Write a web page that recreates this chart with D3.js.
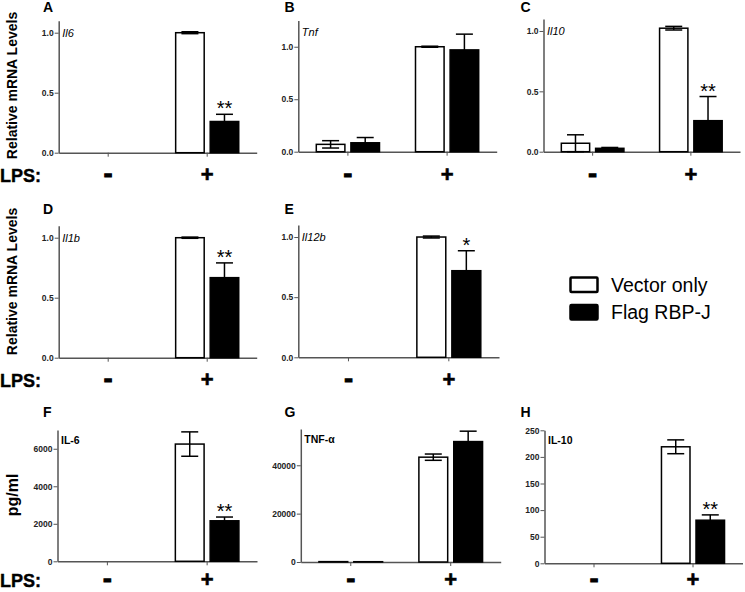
<!DOCTYPE html>
<html>
<head>
<meta charset="utf-8">
<script src="https://cdn.jsdelivr.net/npm/d3@7"></script>
<style>
  body { margin: 0; background: #fff; }
  svg { display: block; font-family: "Liberation Sans", Arial, sans-serif; }
</style>
</head>
<body>
<div id="chart"></div>
<script>
// groups on the x axis and the two series
var groups = ["-", "+"];
var seriesNames = ["Vector only", "Flag RBP-J"];

// tick values
var mrnaTicks = [0, 0.5, 1.0];
var il6PgTicks = [0, 2000, 4000, 6000];
var tnfPgTicks = [0, 20000, 40000];
var il10PgTicks = [0, 50, 100, 150, 200, 250];

// A - Il6 mRNA
var il6Vector = [null, 1.0],   il6VectorErr = [null, 0.008];
var il6Flag   = [null, 0.26],  il6FlagErr   = [null, 0.06];
var il6Stars  = ["", "**"];
// B - Tnf mRNA
var tnfVector = [0.07, 1.0],   tnfVectorErr = [0.035, 0.005];
var tnfFlag   = [0.085, 0.97], tnfFlagErr   = [0.05, 0.15];
var tnfStars  = ["", ""];
// C - Il10 mRNA
var il10Vector = [0.07, 1.023], il10VectorErr = [0.07, 0.015];
var il10Flag   = [0.028, 0.257], il10FlagErr  = [0.007, 0.2];
var il10Stars  = ["", "**"];
// D - Il1b mRNA
var il1bVector = [null, 1.0],  il1bVectorErr = [null, 0.005];
var il1bFlag   = [null, 0.667], il1bFlagErr  = [null, 0.123];
var il1bStars  = ["", "**"];
// E - Il12b mRNA
var il12bVector = [null, 1.0],  il12bVectorErr = [null, 0.008];
var il12bFlag   = [null, 0.72], il12bFlagErr   = [null, 0.166];
var il12bStars  = ["", "*"];
// F - IL-6 protein (pg/ml)
var il6PgVector = [null, 6250], il6PgVectorErr = [null, 650];
var il6PgFlag   = [null, 2160], il6PgFlagErr   = [null, 200];
var il6PgStars  = ["", "**"];
// G - TNF-a protein (pg/ml)
var tnfPgVector = [150, 43350], tnfPgVectorErr = [0, 1300];
var tnfPgFlag   = [120, 49800], tnfPgFlagErr   = [0, 4300];
var tnfPgStars  = ["", ""];
// H - IL-10 protein (pg/ml)
var il10PgVector = [null, 219], il10PgVectorErr = [null, 13];
var il10PgFlag   = [null, 81],  il10PgFlagErr   = [null, 10];
var il10PgStars  = ["", "**"];

var svg = d3.select('#chart').append('svg').attr('width', 745).attr('height', 592);

var f1 = d3.format('.1f'), f0 = d3.format('d');

var panels = [
  {id:'A', gene:'Il6',   italic:true,  vec:il6Vector, vecErr:il6VectorErr, flag:il6Flag, flagErr:il6FlagErr, stars:il6Stars, ticks:mrnaTicks, fmt:f1, ymax:1.1, left:58.7, right:256.7, zero:152.7, top:20.7, row:0},
  {id:'B', gene:'Tnf',   italic:true,  vec:tnfVector, vecErr:tnfVectorErr, flag:tnfFlag, flagErr:tnfFlagErr, stars:tnfStars, ticks:mrnaTicks, fmt:f1, ymax:1.25, left:298.3, right:496.7, zero:151.7, top:20.5, row:0},
  {id:'C', gene:'Il10',  italic:true,  vec:il10Vector, vecErr:il10VectorErr, flag:il10Flag, flagErr:il10FlagErr, stars:il10Stars, ticks:mrnaTicks, fmt:f1, ymax:1.1, left:543.5, right:740, zero:151.7, top:18.9, row:0},
  {id:'D', gene:'Il1b',  italic:true,  vec:il1bVector, vecErr:il1bVectorErr, flag:il1bFlag, flagErr:il1bFlagErr, stars:il1bStars, ticks:mrnaTicks, fmt:f1, ymax:1.1, left:58.7, right:256.7, zero:357.7, top:225.7, row:1},
  {id:'E', gene:'Il12b', italic:true,  vec:il12bVector, vecErr:il12bVectorErr, flag:il12bFlag, flagErr:il12bFlagErr, stars:il12bStars, ticks:mrnaTicks, fmt:f1, ymax:1.1, left:298.3, right:499, zero:357.3, top:225, row:1},
  {id:'F', gene:'IL-6',  italic:false, vec:il6PgVector, vecErr:il6PgVectorErr, flag:il6PgFlag, flagErr:il6PgFlagErr, stars:il6PgStars, ticks:il6PgTicks, fmt:f0, ymax:7000, left:57.5, right:257, zero:561.3, top:430, row:2},
  {id:'G', gene:'TNF-\u03b1', italic:false, vec:tnfPgVector, vecErr:tnfPgVectorErr, flag:tnfPgFlag, flagErr:tnfPgFlagErr, stars:tnfPgStars, ticks:tnfPgTicks, fmt:f0, ymax:55000, left:300.8, right:500.7, zero:562, top:429, row:2},
  {id:'H', gene:'IL-10', italic:false, vec:il10PgVector, vecErr:il10PgVectorErr, flag:il10PgFlag, flagErr:il10PgFlagErr, stars:il10PgStars, ticks:il10PgTicks, fmt:f0, ymax:250, left:544.5, right:742.5, zero:563.3, top:430.3, row:2}
];

var rows = [
  {lps:181.5, label:'Relative mRNA Levels', labelY:85.5, labelX:16.7, size:14},
  {lps:386.5, label:'Relative mRNA Levels', labelY:281.5, labelX:16.7, size:14},
  {lps:586.5, label:'pg/ml', labelY:495, labelX:18, size:16}
];

rows.forEach(function(r){
  svg.append('text').text('LPS:')
    .attr('x', 0).attr('y', r.lps)
    .style('font', 'bold 18px "Liberation Sans", Arial, sans-serif')
    .attr('stroke', '#000').attr('stroke-width', 0.4);
  svg.append('text').text(r.label)
    .attr('transform', 'translate(' + r.labelX + ',' + r.labelY + ') rotate(-90)')
    .attr('text-anchor', 'middle')
    .style('font', 'bold ' + r.size + 'px "Liberation Sans", Arial, sans-serif');
});

function drawPanel(p) {
  var g = svg.append('g');
  var x = d3.scaleBand().domain(groups).range([p.left, p.right]);
  var x1 = d3.scaleBand().domain(seriesNames).range([0, x.bandwidth()]).paddingInner(0.174).paddingOuter(0.52);
  var y = d3.scaleLinear().domain([0, p.ymax]).range([p.zero, p.top]);

  var yAxis = d3.axisLeft(y).tickValues(p.ticks).tickFormat(p.fmt).tickSize(4).tickSizeOuter(0).tickPadding(1);
  var xAxis = d3.axisBottom(x).tickSize(4).tickSizeOuter(0).tickFormat('');

  var ya = g.append('g').attr('transform', 'translate(' + p.left + ',0)').call(yAxis);
  var xa = g.append('g').attr('transform', 'translate(0,' + p.zero + ')').call(xAxis);
  [ya, xa].forEach(function(a){
    a.select('.domain').attr('stroke', '#555').attr('stroke-width', 1.5);
    a.selectAll('.tick line').attr('stroke', '#555').attr('stroke-width', 1);
    a.selectAll('text').attr('fill', '#222')
      .style('font', 'bold 8.5px "Liberation Sans", Arial, sans-serif');
  });

  var rowsData = [];
  groups.forEach(function(grp, i){
    rowsData.push({grp:grp, s:seriesNames[0], v:p.vec[i], e:p.vecErr[i], fill:'#fff', star:''});
    rowsData.push({grp:grp, s:seriesNames[1], v:p.flag[i], e:p.flagErr[i], fill:'#000', star:p.stars[i]});
  });
  rowsData = rowsData.filter(function(d){ return d.v !== null; });

  g.selectAll('rect.bar').data(rowsData).enter().append('rect')
    .attr('class', 'bar')
    .attr('x', function(d){ return x(d.grp) + x1(d.s); })
    .attr('y', function(d){ return y(d.v); })
    .attr('width', x1.bandwidth())
    .attr('height', function(d){ return p.zero - y(d.v); })
    .attr('fill', function(d){ return d.fill; })
    .attr('stroke', '#000').attr('stroke-width', 1.5);

  var capW = 8.5;
  rowsData.filter(function(d){ return d.e > 0; }).forEach(function(d){
    var cx = x(d.grp) + x1(d.s) + x1.bandwidth() / 2;
    var hi = y(d.v + d.e), lo = y(Math.max(0, d.v - d.e));
    g.append('line').attr('x1', cx).attr('x2', cx).attr('y1', hi).attr('y2', lo)
      .attr('stroke', '#000').attr('stroke-width', 1.5);
    g.append('line').attr('x1', cx - capW).attr('x2', cx + capW).attr('y1', hi).attr('y2', hi)
      .attr('stroke', '#000').attr('stroke-width', 1.5);
    g.append('line').attr('x1', cx - capW).attr('x2', cx + capW).attr('y1', lo).attr('y2', lo)
      .attr('stroke', '#000').attr('stroke-width', 1.5);
    if (d.star) {
      g.append('text').text(d.star)
        .attr('x', cx).attr('y', hi + 1)
        .attr('text-anchor', 'middle')
        .style('font', '20px "Liberation Sans", Arial, sans-serif');
    }
  });

  // LPS -/+ labels
  groups.forEach(function(grp){
    g.append('text').text(grp)
      .attr('x', x(grp) + x.bandwidth() / 2)
      .attr('y', rows[p.row].lps)
      .attr('text-anchor', 'middle')
      .style('font', 'bold ' + (grp === '-' ? 26 : 22) + 'px "Liberation Sans", Arial, sans-serif')
      .attr('stroke', '#000').attr('stroke-width', grp === '-' ? 1.2 : 0.6);
  });

  // gene / cytokine label
  g.append('text').text(p.gene)
    .attr('x', p.left + 3.5)
    .attr('y', p.italic ? p.zero - (p.zero - p.top) * 0.88 : p.top + 14)
    .style('font', (p.italic ? 'italic 11px ' : 'bold 10.5px ') + '"Liberation Sans", Arial, sans-serif');

  // panel letter
  var letterX = p.left < 100 ? 43 : (p.left < 400 ? 284.5 : 520.5);
  var letterY = [11.8, 214, 416.7][p.row];
  svg.append('text').text(p.id)
    .attr('x', letterX).attr('y', letterY)
    .style('font', 'bold 14px "Liberation Sans", Arial, sans-serif');
}

panels.forEach(drawPanel);

// legend
var legend = svg.append('g');
seriesNames.forEach(function(s, i){
  var yy = 277.5 + i * 27.5;
  legend.append('rect')
    .attr('x', 570.5).attr('y', yy).attr('width', 27).attr('height', 14.5)
    .attr('fill', i === 0 ? '#fff' : '#000')
    .attr('stroke', '#000').attr('stroke-width', 2.5).attr('rx', 1);
  legend.append('text').text(s)
    .attr('x', 611).attr('y', yy + 14)
    .style('font', '19.5px "Liberation Sans", Arial, sans-serif');
});
</script>
</body>
</html>
